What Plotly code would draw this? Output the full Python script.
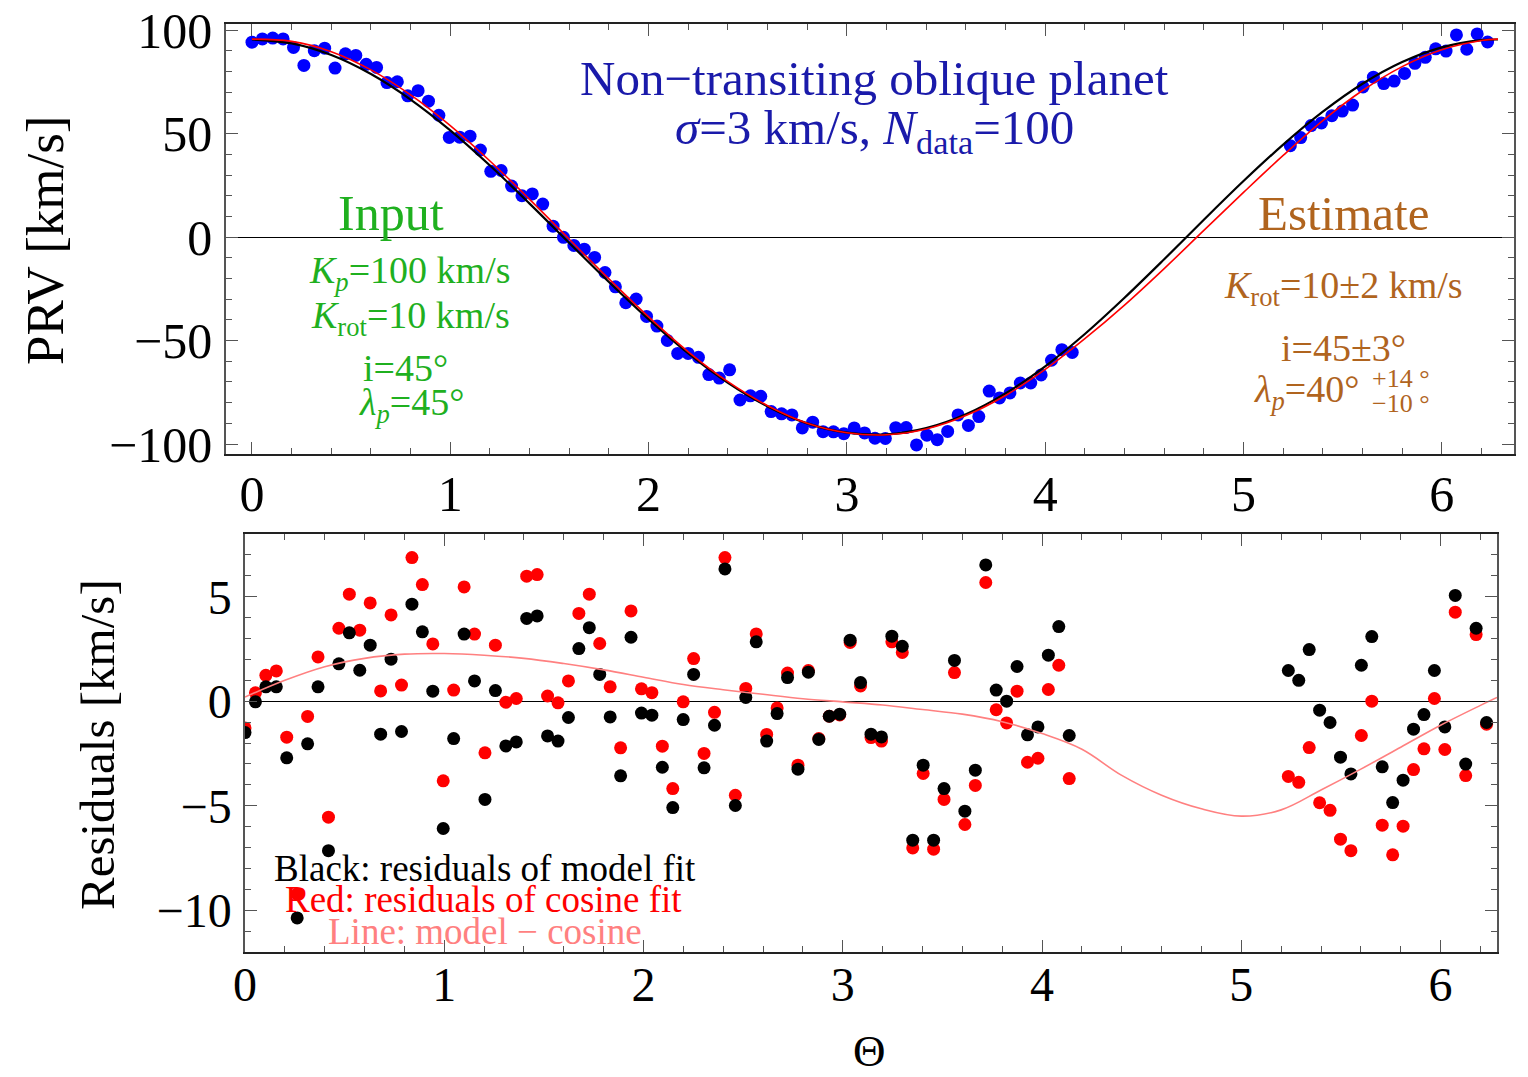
import plotly.graph_objects as go

# ---------------- data ----------------
theta = [0.0, 0.0524, 0.1047, 0.1571, 0.2094, 0.2618, 0.3142, 0.3665, 0.4189, 0.4712,
         0.5236, 0.5760, 0.6283, 0.6807, 0.7330, 0.7854, 0.8378, 0.8901, 0.9425, 0.9948,
         1.0472, 1.0996, 1.1519, 1.2043, 1.2566, 1.3090, 1.3614, 1.4137, 1.4661, 1.5184,
         1.5708, 1.6232, 1.6755, 1.7279, 1.7802, 1.8326, 1.8850, 1.9373, 1.9897, 2.0420,
         2.0944, 2.1468, 2.1991, 2.2515, 2.3038, 2.3562, 2.4086, 2.4609, 2.5133, 2.5656,
         2.6180, 2.6704, 2.7227, 2.7751, 2.8274, 2.8798, 2.9322, 2.9845, 3.0369, 3.0892,
         3.1416, 3.1940, 3.2463, 3.2987, 3.3510, 3.4034, 3.4558, 3.5081, 3.5605, 3.6128,
         3.6652, 3.7176, 3.7699, 3.8223, 3.8746, 3.9270, 3.9794, 4.0317, 4.0841, 4.1364,
         5.2360, 5.2883, 5.3407, 5.3930, 5.4454, 5.4978, 5.5501, 5.6025, 5.6549, 5.7072,
         5.7596, 5.8119, 5.8643, 5.9166, 5.9690, 6.0214, 6.0737, 6.1261, 6.1784, 6.2308]

prv_data = [94.2, 95.8, 96.2, 95.8, 91.7, 83.0, 90.1, 91.3, 81.7, 88.6,
            87.8, 83.5, 82.0, 74.7, 75.1, 68.3, 70.8, 65.7, 58.9, 48.2,
            48.3, 48.8, 42.1, 31.8, 32.2, 24.7, 20.0, 20.9, 16.0, 5.3,
            -0.1, -4.0, -5.8, -9.8, -17.1, -24.0, -31.7, -29.9, -38.3, -43.0,
            -49.9, -56.2, -56.2, -58.1, -66.4, -68.1, -64.1, -78.7, -76.7, -76.9,
            -84.3, -85.4, -85.9, -92.2, -89.4, -94.0, -94.1, -95.0, -92.2, -94.6,
            -97.2, -97.3, -92.1, -92.0, -100.4, -95.7, -97.9, -93.9, -85.9, -91.0,
            -86.7, -74.4, -77.7, -75.3, -70.5, -70.5, -66.6, -59.5, -54.4, -55.7,
            44.2, 48.1, 53.9, 55.2, 58.7, 60.9, 63.8, 72.6, 77.3, 74.2,
            75.4, 79.1, 84.0, 86.9, 91.0, 89.9, 97.7, 90.8, 98.2, 94.3]

res_model = [-1.50, -0.03, 0.69, 0.69, -2.71, -10.37, -2.04, 0.69, -7.15, 1.79,
             3.27, 1.48, 2.68, -1.58, 2.01, -1.45, 4.64, 3.32, 0.48, -6.09,
             -1.79, 3.21, 0.97, -4.70, 0.51, -2.14, -1.95, 3.96, 4.08, -1.66,
             -1.91, -0.78, 2.52, 3.52, 1.28, -0.75, -3.57, 3.06, -0.57, -0.67,
             -3.16, -5.09, -0.88, 1.28, -3.19, -1.15, 6.33, -4.99, 0.18, 2.84,
             -1.91, -0.59, 1.13, -3.25, 1.39, -1.83, -0.72, -0.62, 2.92, 0.89,
             -1.58, -1.71, 3.11, 2.63, -6.65, -3.06, -6.65, -4.18, 1.95, -5.26,
             -3.30, 6.52, 0.53, 0.00, 1.66, -1.61, -1.23, 2.20, 3.57, -1.64,
             1.47, 1.00, 2.47, -0.43, -1.02, -2.68, -3.48, 1.72, 3.09, -3.14,
             -4.85, -3.78, -1.34, -0.64, 1.47, -1.23, 5.06, -3.01, 3.49, -1.02]

res_cosine = [-1.28, 0.40, 1.24, 1.45, -1.72, -9.23, -0.73, 2.12, -5.55, 3.49,
              5.12, 3.40, 4.70, 0.49, 4.13, 0.77, 6.87, 5.58, 2.74, -3.81,
              0.53, 5.47, 3.21, -2.47, 2.68, -0.05, 0.13, 5.98, 6.06, 0.25,
              -0.08, 0.97, 4.20, 5.12, 2.76, 0.69, -2.23, 4.32, 0.59, 0.41,
              -2.15, -4.18, -0.03, 2.04, -2.50, -0.53, 6.87, -4.50, 0.61, 3.22,
              -1.59, -0.32, 1.35, -3.06, 1.47, -1.79, -0.72, -0.66, 2.81, 0.73,
              -1.74, -1.91, 2.84, 2.33, -7.02, -3.46, -7.08, -4.70, 1.37, -5.90,
              -4.03, 5.68, -0.41, -1.04, 0.48, -2.92, -2.73, 0.56, 1.72, -3.70,
              -3.60, -3.88, -2.22, -4.86, -5.22, -6.60, -7.15, -1.64, 0.00, -5.93,
              -7.35, -5.98, -3.27, -2.28, 0.13, -2.31, 4.26, -3.56, 3.19, -1.10]

curve_theta = [0.0, 0.2, 0.4, 0.6, 0.8, 1.0, 1.2, 1.4, 1.6, 1.8, 2.0, 2.2, 2.4, 2.6, 2.8,
               3.0, 3.2, 3.4, 3.6, 3.8, 4.0, 4.2, 4.4, 4.6, 4.8, 5.0, 5.2, 5.4, 5.6, 5.8,
               6.0, 6.2, 6.2832]
cosine_fit = [95.5, 93.6, 88.0, 78.8, 66.5, 51.6, 34.6, 16.2, -2.8, -21.7, -39.7, -56.2,
              -70.4, -81.8, -90.0, -94.5, -95.3, -92.3, -85.6, -75.5, -62.4, -46.8, -29.3,
              -10.7, 8.4, 27.1, 44.7, 60.6, 74.1, 84.6, 91.7, 95.2, 95.5]
model_fit = [95.7, 94.6, 89.65, 80.85, 68.75, 53.9, 36.8, 18.25, -1.0, -20.2, -38.55,
             -55.4, -69.85, -81.45, -89.9, -94.5, -95.5, -92.7, -86.2, -76.5, -63.95,
             -49.1, -32.85, -15.2, 3.25, 21.6, 39.5, 56.35, 70.85, 82.4, 90.55, 95.0, 95.7]
model_minus_cosine = [0.2, 1.0, 1.65, 2.05, 2.25, 2.28, 2.2, 2.05, 1.8, 1.5, 1.15, 0.8,
                      0.55, 0.33, 0.12, -0.03, -0.18, -0.4, -0.62, -0.98, -1.55, -2.3,
                      -3.55, -4.5, -5.15, -5.5, -5.2, -4.25, -3.25, -2.2, -1.15, -0.2, 0.18]

# ---------------- figure ----------------
W, H = 1528, 1077
FONT = "Liberation Serif"


def px(x):
    return x / W


def py(y):
    return 1 - y / H


fig = go.Figure()

fig.add_trace(go.Scatter(x=theta, y=prv_data, mode="markers",
                         marker=dict(color="#0000ff", size=13, line=dict(width=0)),
                         xaxis="x", yaxis="y", showlegend=False))
fig.add_trace(go.Scatter(x=curve_theta, y=cosine_fit, mode="lines",
                         line=dict(color="black", width=2.2, shape="spline"),
                         xaxis="x", yaxis="y", showlegend=False))
fig.add_trace(go.Scatter(x=curve_theta, y=model_fit, mode="lines",
                         line=dict(color="#ff0000", width=1.6, shape="spline"),
                         xaxis="x", yaxis="y", showlegend=False))

fig.add_trace(go.Scatter(x=theta, y=res_cosine, mode="markers",
                         marker=dict(color="#ff0000", size=13, line=dict(width=0)),
                         xaxis="x2", yaxis="y2", showlegend=False))
fig.add_trace(go.Scatter(x=theta, y=res_model, mode="markers",
                         marker=dict(color="black", size=13, line=dict(width=0)),
                         xaxis="x2", yaxis="y2", showlegend=False))
fig.add_trace(go.Scatter(x=curve_theta, y=model_minus_cosine, mode="lines",
                         line=dict(color="#ff8080", width=1.6, shape="spline"),
                         xaxis="x2", yaxis="y2", showlegend=False))

tickc = "#555555"


def axis_style(size):
    return dict(showgrid=False, ticks="inside", mirror="ticks", showline=True,
                automargin=False, tickcolor=tickc, ticklen=12, tickwidth=1.2,
                tickfont=dict(family=FONT, size=size, color="black"))


fig.update_layout(
    width=W, height=H,
    margin=dict(l=0, r=0, t=0, b=0, pad=0, autoexpand=False),
    paper_bgcolor="white", plot_bgcolor="white",
    showlegend=False,
    xaxis=dict(domain=[px(226), px(1514)], range=[-0.131, 6.364], anchor="y",
               dtick=1, tick0=0, zeroline=False, linecolor="#222222", linewidth=1.5,
               minor=dict(dtick=0.2, tick0=0, ticklen=6, tickcolor=tickc, ticks="inside"),
               ticklabelstandoff=-5, **axis_style(50)),
    yaxis=dict(domain=[py(454), py(24)], range=[-104.8, 103.0], anchor="x",
               dtick=50, tick0=0, zeroline=True, zerolinecolor="black", zerolinewidth=1.2,
               linecolor="#555555", linewidth=1.5,
               minor=dict(dtick=10, tick0=0, ticklen=6, tickcolor=tickc, ticks="inside"),
               ticklabelstandoff=2, **axis_style(50)),
    xaxis2=dict(domain=[px(245), px(1497)], range=[0, 6.2832], anchor="y2",
                dtick=1, tick0=0, zeroline=False, linecolor="#222222", linewidth=1.5,
                minor=dict(dtick=0.2, tick0=0, ticklen=6, tickcolor=tickc, ticks="inside"),
                ticklabelstandoff=-10, **axis_style(48)),
    yaxis2=dict(domain=[py(952), py(534)], range=[-12, 8], anchor="x2",
                dtick=5, tick0=0, zeroline=True, zerolinecolor="black", zerolinewidth=1.2,
                linecolor="#555555", linewidth=1.5,
                minor=dict(dtick=1, tick0=0, ticklen=6, tickcolor=tickc, ticks="inside"),
                ticklabelstandoff=2, **axis_style(48)),
)

ann = []


def add_text(text, x, y, size, color, angle=0):
    ann.append(dict(text=text, x=px(x), y=py(y), xref="paper", yref="paper",
                    showarrow=False, xanchor="center", yanchor="middle",
                    textangle=angle, font=dict(family=FONT, size=size, color=color)))


blue = "#1a1aaa"
green = "#1fb01f"
brown = "#b0641e"

add_text("Non\u2212transiting oblique planet", 875, 78, 49, blue)
add_text("<i>\u03c3</i>=3 km/s, <i>N</i><sub>data</sub>=100", 875, 130, 49, blue)

add_text("Input", 391, 213, 50, green)
add_text("<i>K<sub>p</sub></i>=100 km/s", 410, 273, 38, green)
add_text("<i>K</i><sub>rot</sub>=10 km/s", 410, 318, 38, green)
add_text("i=45\u00b0", 405, 368, 38, green)
add_text("<i>\u03bb<sub>p</sub></i>=45\u00b0", 411, 405, 38, green)

add_text("Estimate", 1343, 213, 49, brown)
add_text("<i>K</i><sub>rot</sub>=10\u00b12 km/s", 1343, 288, 38, brown)
add_text("i=45\u00b13\u00b0", 1343, 348, 38, brown)
add_text("<i>\u03bb<sub>p</sub></i>=40\u00b0", 1306, 392, 38, brown)
add_text("+14 \u00b0", 1401, 379, 26, brown)
add_text("\u221210 \u00b0", 1401, 404, 26, brown)

add_text("Black: residuals of model fit", 485, 868, 37, "black")
add_text("Red: residuals of cosine fit", 483, 899, 37, "#ff0000")
add_text("Line: model \u2212 cosine", 485, 931, 37, "#ff8080")

add_text("PRV [km/s]", 45, 240, 53, "black", angle=-90)
add_text("Residuals [km/s]", 97, 745, 49, "black", angle=-90)
add_text("\u0398", 870, 1051, 45, "black")

fig.update_layout(annotations=ann)

fig.write_html("out.html")
